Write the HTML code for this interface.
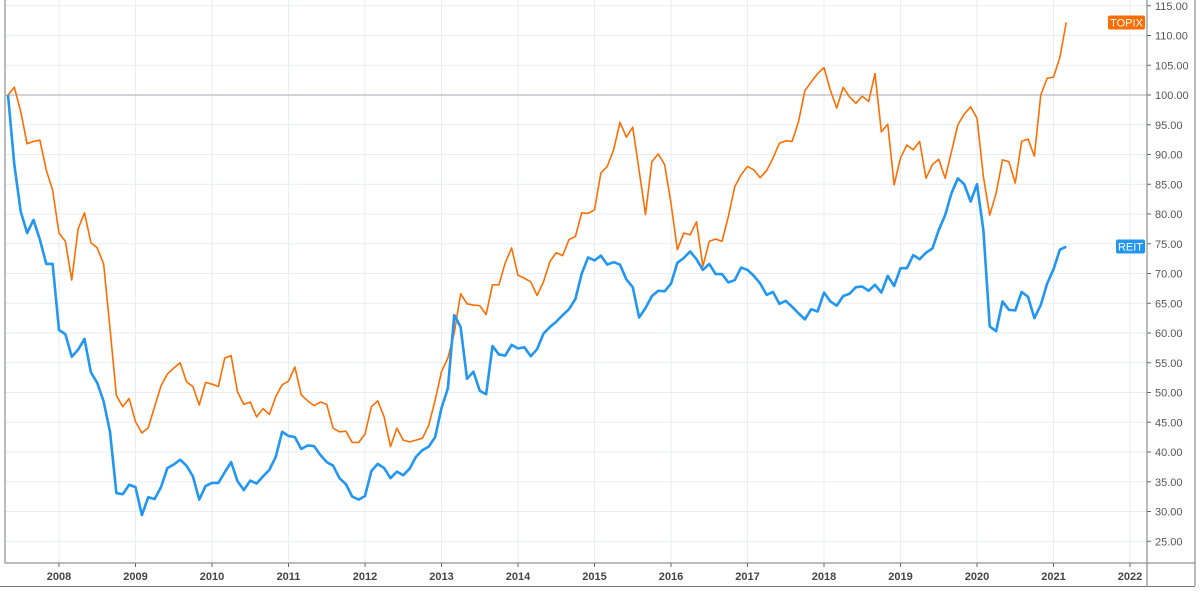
<!DOCTYPE html>
<html><head><meta charset="utf-8"><style>
body{margin:0;background:#fff;}
svg{display:block;font-family:"Liberation Sans",sans-serif;}
</style></head><body>
<svg id="chart" width="1200" height="592" xmlns="http://www.w3.org/2000/svg"></svg>
<script>
const yTicks=[25,30,35,40,45,50,55,60,65,70,75,80,85,90,95,100,105,110,115];
const xYears=[2008,2009,2010,2011,2012,2013,2014,2015,2016,2017,2018,2019,2020,2021,2022];
const startMonthIndex=4; // May 2007 (months since Jan 2007)
const topix=[100,101.3,97.2,91.8,92.2,92.4,87.4,84,76.8,75.4,68.9,77.5,80.2,75.2,74.3,71.6,60.8,49.5,47.6,49,45.1,43.2,44.1,47.6,51.1,53.1,54.1,55,51.8,51,47.9,51.7,51.4,51,55.8,56.2,50.1,48,48.4,45.9,47.3,46.3,49.3,51.3,51.9,54.3,49.6,48.6,47.8,48.4,48,44,43.4,43.5,41.6,41.6,43,47.6,48.6,45.9,40.9,44,42,41.7,42,42.3,44.5,48.7,53.5,55.8,60,66.6,64.9,64.7,64.6,63.1,68.1,68.1,71.8,74.3,69.7,69.2,68.6,66.3,68.6,72,73.5,73,75.7,76.2,80.2,80.1,80.7,86.9,88,90.8,95.4,92.9,94.6,87.3,79.9,88.8,90.1,88.3,81.8,74,76.8,76.5,78.7,71.2,75.4,75.8,75.4,79.6,84.6,86.6,88,87.4,86.1,87.3,89.4,91.9,92.3,92.2,95.5,100.7,102.2,103.6,104.6,100.8,97.8,101.3,99.7,98.6,99.8,98.9,103.6,93.8,95.1,84.9,89.4,91.6,90.8,92.2,86,88.3,89.2,86,90.5,95,96.8,98,96.1,86.3,79.8,83.5,89.1,88.8,85.2,92.2,92.6,89.7,100,102.8,103,106.3,112.2];
const reit=[100,88.2,80.4,76.8,79,75.7,71.6,71.6,60.5,59.8,56,57.2,59,53.4,51.6,48.5,43.4,33.1,32.9,34.5,34.1,29.4,32.4,32.1,34.1,37.3,37.9,38.7,37.7,35.9,32,34.3,34.8,34.8,36.6,38.3,35.1,33.6,35.2,34.7,35.9,37,39.2,43.4,42.7,42.5,40.5,41.1,41,39.5,38.3,37.7,35.6,34.6,32.5,32,32.6,36.8,38,37.3,35.6,36.7,36.1,37.2,39.2,40.3,40.9,42.5,47.4,50.7,63,61,52.3,53.5,50.3,49.7,57.8,56.4,56.2,58,57.4,57.6,56.1,57.3,59.9,61,61.9,63,64,65.7,70,72.7,72.2,73,71.5,71.9,71.5,69,67.7,62.6,64.2,66.2,67.1,67,68.3,71.8,72.6,73.7,72.4,70.6,71.6,69.9,69.9,68.5,68.9,71,70.6,69.6,68.3,66.4,66.9,64.9,65.4,64.4,63.3,62.3,64,63.6,66.8,65.3,64.6,66.2,66.6,67.7,67.8,67.1,68.1,66.8,69.6,67.9,70.9,70.9,73.1,72.4,73.5,74.2,77.3,79.8,83.5,86,85,82.1,85,77.3,61.1,60.3,65.3,63.9,63.8,66.9,66.1,62.5,64.7,68.3,70.7,74,74.5];

const NS="http://www.w3.org/2000/svg";
const svg=document.getElementById('chart');
const PL=5,PR=1147,PB=563;
function yS(v){return 95+(100-v)*5.95;}
function xS(monthsSinceJan2007){return 59+(monthsSinceJan2007-12)*6.375;}
function mk(tag,attrs){const e=document.createElementNS(NS,tag);for(const k in attrs)e.setAttribute(k,attrs[k]);svg.appendChild(e);return e;}

// grid
yTicks.forEach(v=>{
  const y=yS(v);
  const g=mk('line',{x1:PL,x2:PR,y1:y,y2:y,stroke:'#e6edf3','stroke-width':1});
  
  
  const t=mk('line',{x1:PR,x2:PR+4,y1:y,y2:y,stroke:'#666','stroke-width':1});
  
  
  const l=mk('text',{x:1155,y:y+4,'font-size':11,fill:'#555'});
  l.textContent=v.toFixed(2);
  
  
});
xYears.forEach(yr=>{
  const x=xS((yr-2007)*12);
  const g=mk('line',{x1:x,x2:x,y1:0,y2:PB,stroke:'#e6edf3','stroke-width':1});
  
  
  const t=mk('line',{x1:x,x2:x,y1:PB,y2:PB+4,stroke:'#666','stroke-width':1});
  
  
  const l=mk('text',{x:x,y:580,'font-size':11,'font-weight':'bold',fill:'#444','text-anchor':'middle'});
  l.textContent=yr;
  
  
});
// baseline 100
const bl=mk('line',{x1:PL,x2:PR,y1:yS(100),y2:yS(100),stroke:'#c4c4cc','stroke-width':1.5});


// axes / borders
const ax=mk('path',{d:`M${PL} 0V${PB}H1195M${PR} 0V586M1195 0V586M0 586.5H1195`,stroke:'#777',fill:'none','stroke-width':1});



function series(arr,color,w,name){
  const d=arr.map((v,i)=>(i?'L':'M')+xS(startMonthIndex+i).toFixed(2)+' '+yS(v).toFixed(2)).join('');
  const p=mk('path',{d:d,stroke:color,'stroke-width':w,fill:'none','stroke-linejoin':'round'});
  
  
}
series(topix,'#ff6d00',1.6,'topix-line');
series(reit,'#2196f3',2.6,'reit-line');

function tag(text,color,yc,w,name){
  const r=mk('rect',{x:PR-2-w,y:yc-7,width:w,height:14,rx:2,fill:color});
  
  
  const t=mk('text',{x:PR-2-w/2,y:yc+4,'font-size':11,fill:'#fff','text-anchor':'middle'});
  t.textContent=text;
  
  
}
tag('TOPIX','#ff6d00',22.5,37,'topix-label');
tag('REIT','#2196f3',246.5,29,'reit-label');
</script>
</body></html>
